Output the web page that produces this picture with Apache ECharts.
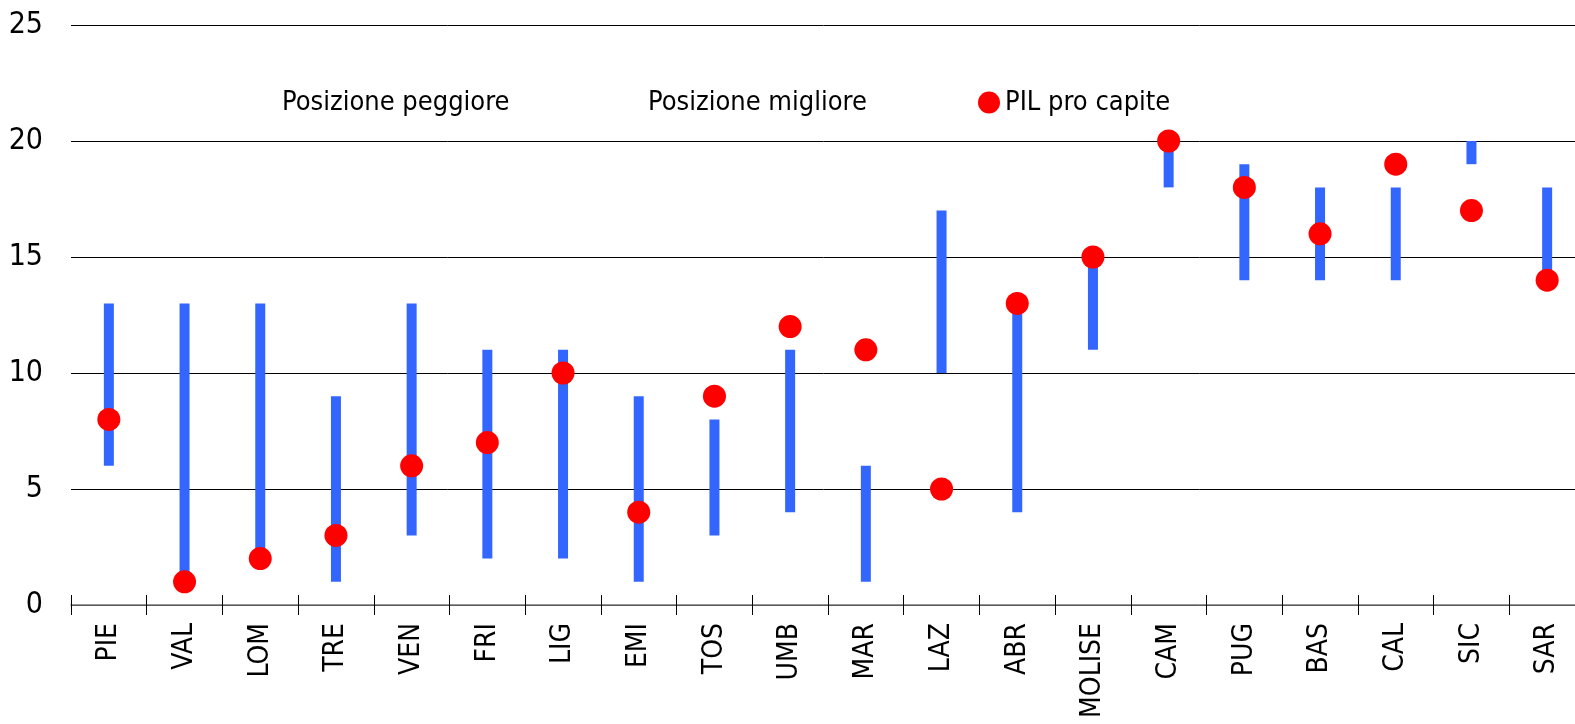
<!DOCTYPE html>
<html>
<head>
<meta charset="utf-8">
<script src="https://cdn.jsdelivr.net/npm/echarts@6/dist/echarts.min.js"></script>
<style>
html,body{margin:0;padding:0;background:#fff;overflow:hidden;}
#chart{width:1575px;height:724px;}
</style>
</head>
<body>
<div id="chart"></div>
<script>
const categories = ['PIE','VAL','LOM','TRE','VEN','FRI','LIG','EMI','TOS','UMB','MAR','LAZ','ABR','MOLISE','CAM','PUG','BAS','CAL','SIC','SAR'];
const bestPos  = [6, 1, 2, 1, 3, 2, 2, 1, 3, 4, 1, 10, 4, 11, 18, 14, 14, 14, 19, 14];
const worstPos = [13, 13, 13, 9, 13, 11, 11, 9, 8, 11, 6, 17, 13, 15, 20, 19, 18, 18, 20, 18];
const pilPc    = [8, 1, 2, 3, 6, 7, 10, 4, 9, 12, 11, 5, 13, 15, 20, 18, 16, 19, 17, 14];
const yTicks = [0, 5, 10, 15, 20, 25];

const FONT = "'Liberation Sans Narrow', 'Arial Narrow', 'DejaVu Sans Condensed', sans-serif";
const rangeLen = worstPos.map((w, i) => w - bestPos[i]);

const chart = echarts.init(document.getElementById('chart'), null, {renderer: 'canvas'});
const legendText = {fontFamily: FONT, fontSize: 27, color: '#000'};
chart.setOption({
  animation: false,
  backgroundColor: '#fff',
  grid: {left: 71, width: 1514, top: 25, bottom: 119, containLabel: false, outerBoundsMode: 'none'},
  legend: [
    {data: ['Posizione peggiore'], left: 272, top: 84, itemWidth: 0, itemHeight: 0, textStyle: legendText, selectedMode: false},
    {data: ['Posizione migliore'], left: 638, top: 84, itemWidth: 0, itemHeight: 0, textStyle: legendText, selectedMode: false},
    {data: [{name: 'PIL pro capite', icon: 'circle'}], left: 973, top: 84, itemWidth: 22, itemHeight: 22, itemGap: 0, textStyle: legendText, selectedMode: false}
  ],
  xAxis: [
    {
      type: 'category', data: categories, position: 'bottom',
      axisLine: {lineStyle: {color: '#777', width: 1.5}},
      axisTick: {show: true, length: 10, lineStyle: {color: '#000', width: 1}},
      axisLabel: {rotate: 90, fontFamily: FONT, fontSize: 28, color: '#000', margin: 18}
    },
    {
      type: 'category', data: categories, position: 'bottom',
      axisLine: {show: false},
      axisTick: {show: true, inside: true, length: 10, lineStyle: {color: '#000', width: 1}},
      axisLabel: {show: false}
    }
  ],
  yAxis: {
    type: 'value', min: yTicks[0], max: yTicks[yTicks.length - 1], interval: 5,
    axisLine: {show: false}, axisTick: {show: false},
    splitLine: {lineStyle: {color: '#000', width: 1}},
    axisLabel: {fontFamily: FONT, fontSize: 30, color: '#000', margin: 28}
  },
  series: [
    {
      name: 'Posizione migliore', type: 'bar', stack: 'r', data: bestPos, barWidth: 10,
      itemStyle: {color: 'rgba(0,0,0,0)'}, silent: true
    },
    {
      name: 'Posizione peggiore', type: 'bar', stack: 'r', data: rangeLen, barWidth: 10,
      itemStyle: {color: '#3366FF'}
    },
    {
      name: 'PIL pro capite', type: 'scatter', data: pilPc, symbol: 'circle', symbolSize: 23,
      itemStyle: {color: '#FF0000', opacity: 1}, z: 5
    }
  ]
});
</script>
</body>
</html>
